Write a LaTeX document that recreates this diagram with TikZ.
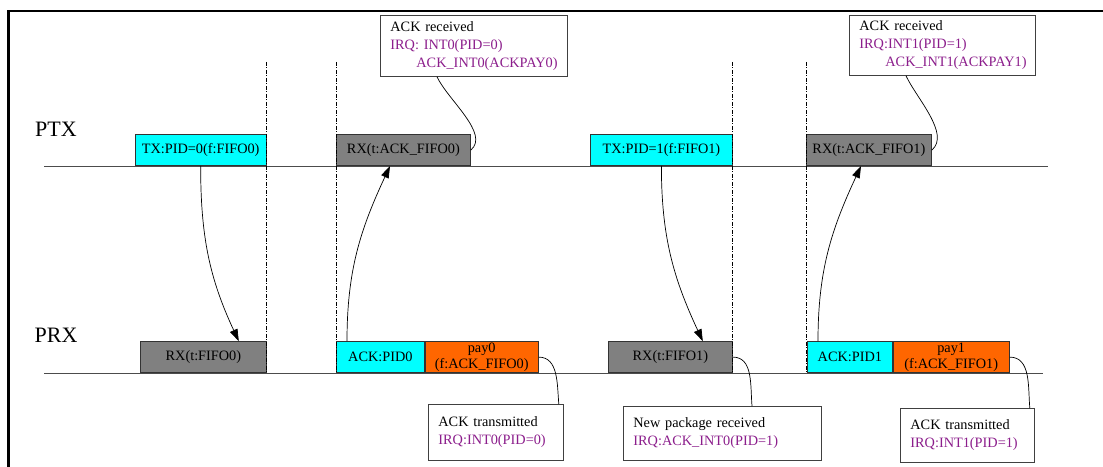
\documentclass[tikz,border=0pt]{standalone}
\usepackage{fontspec}
\setmainfont{Liberation Serif}
\usepackage{tikz}
\usetikzlibrary{arrows.meta, positioning}
\usepackage{xcolor}
\definecolor{txCyan}{RGB}{0, 255, 255}
\definecolor{payOrange}{RGB}{255, 102, 0}
\definecolor{rxGray}{RGB}{128, 128, 128}
\definecolor{irqPurple}{RGB}{140, 30, 140}

\begin{document}
\begin{tikzpicture}[
    x=1pt, y=1pt,
    every node/.style={font=\fontsize{14.3}{18}\selectfont},
    pblock/.style={rectangle, draw=black!80, line width=0.8pt, minimum height=31pt, inner sep=0pt, align=center, fill=#1, font=\fontsize{14.3}{16.5}\selectfont},
    pblock/.default={white},
    note/.style={rectangle, draw=black!75, line width=0.8pt, fill=white, align=left, inner xsep=10pt, inner ysep=0pt, anchor=north west},
    lane/.style={font=\fontsize{22}{24}\selectfont, inner sep=0pt},
    timeline/.style={black!70, line width=0.9pt},
    slot/.style={black, line width=0.7pt, dash pattern=on 4pt off 1.5pt on 1pt off 1.5pt},
    frame/.style={black, line width=2.2pt},
    arrow/.style={-{Triangle[length=12pt, width=8pt]}, line width=0.7pt},
    link/.style={line width=0.7pt}
]
\useasboundingbox (0,0) rectangle (1103,466);

% outer frame (cut by the page)
\draw[frame] (8.5,-20) |- (1130,455);

% lanes
\coordinate (ptxL) at (44,300);
\coordinate (ptxR) at (1048,300);
\coordinate (prxL) at (44,93);
\coordinate (prxR) at (1043,93);
\draw[timeline] (ptxL) -- (ptxR);
\draw[timeline] (prxL) -- (prxR);
\node[lane] (ptx) at (56,337) {PTX};
\node[lane] (prx) at (56,131) {PRX};

% PTX blocks
\node[pblock=txCyan, anchor=south west, minimum width=131.5pt] (tx0) at (134.5,300) {TX:PID=0(f:FIFO0)};
\node[pblock=rxGray, anchor=south west, minimum width=134pt] (rxack0) at (336,300) {RX(t:ACK\_FIFO0)};
\node[pblock=txCyan, anchor=south west, minimum width=142pt] (tx1) at (590,300) {TX:PID=1(f:FIFO1)};
\node[pblock=rxGray, anchor=south west, minimum width=125pt] (rxack1) at (806,300) {RX(t:ACK\_FIFO1)};

% PRX blocks
\node[pblock=rxGray, anchor=south west, minimum width=126pt] (rx0) at (140,93) {RX(t:FIFO0)};
\node[pblock=txCyan, anchor=south west, minimum width=88pt] (ack0) at (336,93) {ACK:PID0};
\node[pblock=payOrange, minimum width=113pt, right=0pt of ack0] (pay0) {pay0\\(f:ACK\_FIFO0)};
\node[pblock=rxGray, anchor=south west, minimum width=124pt] (rx1) at (608,93) {RX(t:FIFO1)};
\node[pblock=txCyan, anchor=south west, minimum width=85pt] (ack1) at (807,93) {ACK:PID1};
\node[pblock=payOrange, minimum width=116pt, right=0pt of ack1] (pay1) {pay1\\(f:ACK\_FIFO1)};

% slot markers
\foreach \sx in {266,336,732,806}
    \draw[slot] (\sx,404) -- (\sx,93);

% notes
\node[note, text width=167pt, minimum height=61pt] (top1) at (380,451) {ACK received\\\textcolor{irqPurple}{IRQ: INT0(PID=0)}\\\hspace*{26pt}\textcolor{irqPurple}{ACK\_INT0(ACKPAY0)}};
\node[note, text width=166pt, minimum height=60pt] (top2) at (849,451) {ACK received\\\textcolor{irqPurple}{IRQ:INT1(PID=1)}\\\hspace*{26pt}\textcolor{irqPurple}{ACK\_INT1(ACKPAY1)}};
\node[note, text width=115pt, minimum height=56pt] (bot1) at (428,62) {ACK transmitted\\\textcolor{irqPurple}{IRQ:INT0(PID=0)}};
\node[note, text width=178pt, minimum height=54pt] (bot2) at (623,60) {New package received\\\textcolor{irqPurple}{IRQ:ACK\_INT0(PID=1)}};
\node[note, text width=114pt, minimum height=54pt] (bot3) at (900,58) {ACK transmitted\\\textcolor{irqPurple}{IRQ:INT1(PID=1)}};

% packet transfers
\draw[arrow] (tx0.south) to[out=-90, in=115] ([xshift=-28pt]rx0.north east);
\draw[arrow] ([xshift=11pt]ack0.north west) to[out=90, in=-115] ([xshift=54pt]rxack0.south west);
\draw[arrow] (tx1.south) to[out=-90, in=115] ([xshift=-30pt]rx1.north east);
\draw[arrow] ([xshift=11pt]ack1.north west) to[out=90, in=-115] ([xshift=55pt]rxack1.south west);

% note callouts
\draw[link] (rxack0.east) to[out=40, in=-65, looseness=0.8] ([xshift=57pt]top1.south west);
\draw[link] (rxack1.east) to[out=40, in=-65, looseness=0.8] ([xshift=57pt]top2.south west);
\draw[link] (pay0.east) to[out=0, in=95] ([xshift=-5pt]bot1.north east);
\draw[link] (rx1.east) to[out=0, in=95] ([xshift=129pt]bot2.north west);
\draw[link] (pay1.east) to[out=0, in=95] ([xshift=-5pt]bot3.north east);

\end{tikzpicture}
\end{document}
